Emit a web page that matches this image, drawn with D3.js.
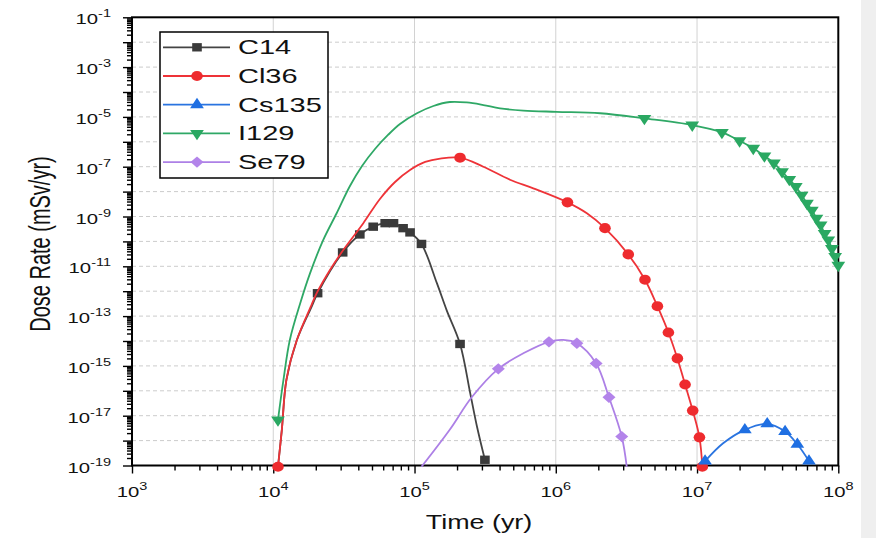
<!DOCTYPE html>
<html>
<head>
<meta charset="utf-8">
<script src="https://cdn.jsdelivr.net/npm/d3@7"></script>
<style>
  html, body { margin: 0; padding: 0; background: #fff; }
  svg { display: block; font-family: "Liberation Sans", Arial, sans-serif; }
</style>
</head>
<body>
<div id="chart"></div>
<script>
"use strict";

/* -------------------- Data (time in yr, dose rate in mSv/yr) -------------------- */

let seriesNames = ["C14", "Cl36", "Cs135", "I129", "Se79"];

/* curve = points the line runs through, marks = points drawn with a symbol */
let c14Curve = [
    [1.08e4, 8.9e-20], [1.15e4, 2.7e-18], [1.24e4, 2.8e-16], [1.47e4, 1.1e-14],
    [1.87e4, 2.4e-13], [2.06e4, 8.3e-13], [3.1e4, 3.6e-11], [4.1e4, 1.9e-10],
    [5.1e4, 3.9e-10], [6.2e4, 5.4e-10], [7.1e4, 5.4e-10], [8.3e4, 3.4e-10],
    [9.3e4, 2.3e-10], [1.12e5, 7.9e-11], [1.44e5, 2.1e-12], [1.69e5, 1.7e-13],
    [2.1e5, 7.6e-15], [2.48e5, 7.9e-17], [2.77e5, 3.6e-18], [3.15e5, 1.7e-19]
];
let c14Marks = [
    [2.06e4, 8.3e-13], [3.1e4, 3.6e-11], [4.1e4, 1.9e-10], [5.1e4, 3.9e-10],
    [6.2e4, 5.4e-10], [7.1e4, 5.4e-10], [8.3e4, 3.4e-10], [9.3e4, 2.3e-10],
    [1.12e5, 7.9e-11], [2.1e5, 7.6e-15], [3.15e5, 1.7e-19]
];

let cl36Curve = [
    [1.08e4, 8.9e-20], [1.15e4, 2.7e-18], [1.24e4, 2.8e-16], [1.47e4, 1.1e-14],
    [1.87e4, 2.9e-13], [2.03e4, 8.3e-13], [2.52e4, 7.1e-12], [3.13e4, 4.5e-11],
    [4.34e4, 5.4e-10], [5.69e4, 5.05e-9], [7.28e4, 2.43e-8], [9.29e4, 7.36e-8],
    [1.19e5, 1.55e-7], [1.52e5, 2.13e-7], [2.1e5, 2.3e-7], [3.07e5, 1.0e-7],
    [4.74e5, 3.0e-8], [6.93e5, 1.35e-8], [1.21e6, 3.7e-9], [1.66e6, 1.35e-9],
    [2.23e6, 3.4e-10], [3.26e6, 3.0e-11], [4.28e6, 2.9e-12], [5.24e6, 2.5e-13],
    [6.27e6, 2.2e-14], [7.26e6, 2.0e-15], [8.23e6, 1.8e-16], [9.32e6, 1.6e-17],
    [1.04e7, 1.35e-18], [1.09e7, 8.9e-20]
];
let cl36Marks = [
    [1.08e4, 8.9e-20], [2.1e5, 2.3e-7], [1.21e6, 3.7e-9], [2.23e6, 3.4e-10],
    [3.26e6, 3.0e-11], [4.28e6, 2.9e-12], [5.24e6, 2.5e-13], [6.27e6, 2.2e-14],
    [7.26e6, 2.0e-15], [8.23e6, 1.8e-16], [9.32e6, 1.6e-17], [1.04e7, 1.35e-18],
    [1.09e7, 8.9e-20]
];

let cs135Curve = [
    [1.14e7, 1.5e-19], [1.53e7, 7.8e-19], [2.18e7, 2.7e-18], [3.14e7, 4.7e-18],
    [4.2e7, 2.3e-18], [5.13e7, 7.1e-19], [6.2e7, 1.5e-19]
];
let cs135Marks = [
    [1.14e7, 1.5e-19], [2.18e7, 2.7e-18], [3.14e7, 4.7e-18],
    [4.2e7, 2.3e-18], [5.13e7, 7.1e-19], [6.2e7, 1.5e-19]
];

let i129Curve = [
    [1.08e4, 6.8e-18], [1.18e4, 2.7e-16], [1.31e4, 1.1e-14], [1.55e4, 3.2e-13],
    [1.82e4, 5.2e-12], [2.26e4, 1.15e-10], [2.81e4, 1.35e-9], [3.49e4, 1.68e-8],
    [4.25e4, 1.07e-7], [5.25e4, 5.14e-7], [6.49e4, 1.88e-6], [7.89e4, 5.19e-6],
    [1.04e5, 1.4e-5], [1.36e5, 2.74e-5], [1.78e5, 3.96e-5], [2.34e5, 3.8e-5],
    [3.07e5, 3.0e-5], [4.03e5, 2.2e-5], [5.89e5, 1.8e-5], [1.01e6, 1.6e-5],
    [2.06e6, 1.4e-5], [4.24e6, 8.7e-6], [9.25e6, 4.7e-6], [1.5e7, 2.4e-6],
    [2.0e7, 1.1e-6], [2.5e7, 5.5e-7], [3.0e7, 2.7e-7], [3.5e7, 1.4e-7],
    [4.0e7, 6.3e-8], [4.5e7, 3.1e-8], [5.0e7, 1.6e-8], [5.5e7, 7.2e-9],
    [6.0e7, 3.4e-9], [6.5e7, 1.8e-9], [7.0e7, 8.5e-10], [7.5e7, 4.6e-10],
    [8.0e7, 2.1e-10], [8.5e7, 1.15e-10], [9.0e7, 5.2e-11], [9.5e7, 2.5e-11],
    [1.0e8, 1.1e-11]
];
let i129Marks = [
    [1.08e4, 6.8e-18], [4.24e6, 8.7e-6], [9.25e6, 4.7e-6], [1.5e7, 2.4e-6],
    [2.0e7, 1.1e-6], [2.5e7, 5.5e-7], [3.0e7, 2.7e-7], [3.5e7, 1.4e-7],
    [4.0e7, 6.3e-8], [4.5e7, 3.1e-8], [5.0e7, 1.6e-8], [5.5e7, 7.2e-9],
    [6.0e7, 3.4e-9], [6.5e7, 1.8e-9], [7.0e7, 8.5e-10], [7.5e7, 4.6e-10],
    [8.0e7, 2.1e-10], [8.5e7, 1.15e-10], [9.0e7, 5.2e-11], [9.5e7, 2.5e-11],
    [1.0e8, 1.1e-11]
];

let se79Curve = [
    [1.12e5, 8.9e-20], [1.78e5, 2.8e-18], [2.54e5, 5.5e-17], [3.92e5, 7.6e-16],
    [5.89e5, 3.2e-15], [8.95e5, 9.3e-15], [1.13e6, 1.1e-14], [1.41e6, 8.1e-15],
    [1.93e6, 1.26e-15], [2.38e6, 5.5e-17], [2.93e6, 1.45e-18], [3.18e6, 8.9e-20]
];
let se79Marks = [
    [3.92e5, 7.6e-16], [8.95e5, 9.3e-15], [1.41e6, 8.1e-15],
    [1.93e6, 1.26e-15], [2.38e6, 5.5e-17], [2.93e6, 1.45e-18]
];

let xTickExps = [3, 4, 5, 6, 7, 8];
let yTickExps = [-1, -3, -5, -7, -9, -11, -13, -15, -17, -19];

/* -------------------- Layout -------------------- */

let svgWidth = 876;
let svgHeight = 538;
let plotLeft = 132;
let plotRight = 838.3;
let plotTop = 17.3;
let plotBottom = 465.5;
let textStretch = 1.45;   // text in the picture is drawn wide
let markStretch = 1.15;

let svg = d3.select("#chart")
    .append("svg")
    .attr("width", svgWidth)
    .attr("height", svgHeight);

svg.append("rect")
    .attr("width", svgWidth)
    .attr("height", svgHeight)
    .attr("fill", "#ffffff");

/* light strip at the right edge of the picture */
svg.append("rect")
    .attr("x", 861)
    .attr("y", 0)
    .attr("width", 15)
    .attr("height", svgHeight)
    .attr("fill", "#efefef");

let xScale = d3.scaleLog()
    .domain([1e3, 1e8])
    .range([plotLeft, plotRight]);

let yScale = d3.scaleLog()
    .domain([1e-19, 1e-1])
    .range([plotBottom, plotTop]);

/* -------------------- Grid -------------------- */

let xDecades = d3.range(4, 8).map(e => Math.pow(10, e));
let yDecades = d3.range(-18, -1).map(e => Math.pow(10, e));

svg.append("g")
    .selectAll("line")
    .data(xDecades)
    .join("line")
    .attr("x1", d => xScale(d))
    .attr("x2", d => xScale(d))
    .attr("y1", plotTop)
    .attr("y2", plotBottom)
    .attr("stroke", "#d2d2d2")
    .attr("stroke-width", 1);

svg.append("g")
    .selectAll("line")
    .data(yDecades)
    .join("line")
    .attr("x1", plotLeft)
    .attr("x2", plotRight)
    .attr("y1", d => yScale(d))
    .attr("y2", d => yScale(d))
    .attr("stroke", "#cccccc")
    .attr("stroke-width", 1)
    .attr("stroke-dasharray", "4,3");

/* -------------------- Axes -------------------- */

function minorTicks(lo, hi) {
    let out = [];
    for (let e = lo; e < hi; e++) {
        for (let k = 2; k <= 9; k++) out.push(k * Math.pow(10, e));
    }
    return out;
}

let xMajor = d3.range(3, 9).map(e => Math.pow(10, e));
let yMajor = d3.range(-19, 0).map(e => Math.pow(10, e));

function styleAxis(g) {
    g.select(".domain").remove();
    g.selectAll(".tick line").attr("stroke", "#000").attr("stroke-width", 1.4);
    g.selectAll(".tick text").remove();
}

svg.append("g")
    .attr("transform", `translate(0,${plotBottom})`)
    .call(d3.axisBottom(xScale).tickValues(xMajor).tickSize(8).tickFormat(""))
    .call(styleAxis);

svg.append("g")
    .attr("transform", `translate(0,${plotBottom})`)
    .call(d3.axisBottom(xScale).tickValues(minorTicks(3, 8)).tickSize(5).tickFormat(""))
    .call(styleAxis);

svg.append("g")
    .attr("transform", `translate(${plotLeft},0)`)
    .call(d3.axisLeft(yScale).tickValues(yMajor).tickSize(9).tickFormat(""))
    .call(styleAxis);

svg.append("g")
    .attr("transform", `translate(${plotLeft},0)`)
    .call(d3.axisLeft(yScale).tickValues(minorTicks(-19, -1)).tickSize(5).tickFormat(""))
    .call(styleAxis);

/* frame */
svg.append("rect")
    .attr("x", plotLeft)
    .attr("y", plotTop)
    .attr("width", plotRight - plotLeft)
    .attr("height", plotBottom - plotTop)
    .attr("fill", "none")
    .attr("stroke", "#000")
    .attr("stroke-width", 2);

/* -------------------- Tick labels -------------------- */

function powerLabel(x, y, exp, anchor) {
    let t = svg.append("text")
        .attr("transform", `translate(${x},${y}) scale(${textStretch},1)`)
        .attr("text-anchor", anchor)
        .attr("font-size", 14)
        .attr("fill", "#111");
    t.append("tspan").text("10");
    t.append("tspan")
        .attr("dy", -7)
        .attr("font-size", 10)
        .text(String(exp));
}

xTickExps.forEach(function (e) {
    powerLabel(xScale(Math.pow(10, e)), 497, e, "middle");
});

yTickExps.forEach(function (e) {
    powerLabel(111, yScale(Math.pow(10, e)) + 7, e, "end");
});

/* axis titles */
svg.append("text")
    .attr("transform", `translate(479,529) scale(1.38,1)`)
    .attr("text-anchor", "middle")
    .attr("font-size", 19.5)
    .attr("fill", "#111")
    .text("Time (yr)");

svg.append("text")
    .attr("transform", `translate(50,244) scale(${textStretch},1) rotate(-90)`)
    .attr("text-anchor", "middle")
    .attr("font-size", 20)
    .attr("fill", "#111")
    .text("Dose Rate (mSv/yr)");

/* -------------------- Series -------------------- */

let seriesCurves = [c14Curve, cl36Curve, cs135Curve, i129Curve, se79Curve];
let seriesMarks = [c14Marks, cl36Marks, cs135Marks, i129Marks, se79Marks];
let seriesColors = ["#3a3a3a", "#ee2b2e", "#1f6fe2", "#2aa862", "#b384ea"];
let seriesLineColors = ["#444444", "#ee3338", "#2a74e0", "#2fa866", "#ad80e6"];

/* symbol, size, rotation */
let seriesSymbols = [
    [d3.symbolSquare, 70, 0],
    [d3.symbolCircle, 80, 0],
    [d3.symbolTriangle, 62, 0],
    [d3.symbolTriangle, 62, 180],
    [d3.symbolSquare, 64, 45]
];

let line = d3.line()
    .x(d => xScale(d[0]))
    .y(d => yScale(d[1]))
    .curve(d3.curveCatmullRom.alpha(0.5));

function drawMark(parent, x, y, i) {
    let s = seriesSymbols[i];
    parent.append("path")
        .attr("d", d3.symbol().type(s[0]).size(s[1])())
        .attr("transform", `translate(${x},${y}) scale(${markStretch},1) rotate(${s[2]})`)
        .attr("fill", seriesColors[i]);
}

seriesNames.forEach(function (name, i) {
    let g = svg.append("g").attr("class", "series");
    g.append("path")
        .datum(seriesCurves[i])
        .attr("d", line)
        .attr("fill", "none")
        .attr("stroke", seriesLineColors[i])
        .attr("stroke-width", 1.8);
    seriesMarks[i].forEach(function (d) {
        drawMark(g, xScale(d[0]), yScale(d[1]), i);
    });
});

/* -------------------- Legend -------------------- */

let legendX = 160;
let legendY = 32;
let legendW = 168;
let legendH = 146;
let rowStep = 28.7;

let legend = svg.append("g");

legend.append("rect")
    .attr("x", legendX)
    .attr("y", legendY)
    .attr("width", legendW)
    .attr("height", legendH)
    .attr("fill", "#fff")
    .attr("stroke", "#000")
    .attr("stroke-width", 1.5);

seriesNames.forEach(function (name, i) {
    let cy = legendY + 15.3 + i * rowStep;
    legend.append("line")
        .attr("x1", legendX + 3)
        .attr("x2", legendX + 70)
        .attr("y1", cy)
        .attr("y2", cy)
        .attr("stroke", seriesLineColors[i])
        .attr("stroke-width", 1.8);
    drawMark(legend, legendX + 37, cy, i);
    legend.append("text")
        .attr("transform", `translate(${legendX + 78},${cy + 7}) scale(${textStretch},1)`)
        .attr("font-size", 20)
        .attr("fill", "#111")
        .text(name);
});
</script>
</body>
</html>
